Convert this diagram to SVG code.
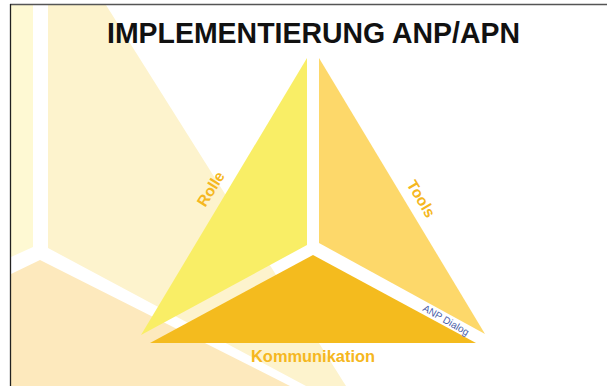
<svg xmlns="http://www.w3.org/2000/svg" width="607" height="386" viewBox="0 0 607 386">
<style>
.lbl{font-family:"Liberation Sans",Arial,sans-serif;font-weight:bold;fill:#f5b720;text-anchor:middle;}
.title{font-family:"Liberation Sans",Arial,sans-serif;font-weight:bold;fill:#111;font-size:29px;}
.dlg{font-family:"Liberation Sans",Arial,sans-serif;fill:#4b5fa8;font-size:10px;text-anchor:middle;}
</style>
<rect width="607" height="386" fill="#ffffff"/>
<g id="background">
<polygon points="11,5 33,5 33,247 11,257" fill="#fef9d3"/>
<polygon points="48,5 106,5 346,386 306,386 48,248" fill="#fdf3cd"/>
<polygon points="11,274 40,260 290,386 11,386" fill="#fde9bd"/>
</g>
<g id="frame" fill="none">
<line x1="10" y1="4.5" x2="607" y2="4.5" stroke="#555" stroke-width="1.3"/>
<line x1="10.5" y1="4" x2="10.5" y2="386" stroke="#222" stroke-width="1.3"/>
</g>
<g id="title">
<text class="title" x="107" y="43" textLength="413" lengthAdjust="spacingAndGlyphs">IMPLEMENTIERUNG ANP/APN</text>
</g>
<g id="rolle">
<polygon points="307,58 307,245 141,335" fill="#f9ee66"/>
<text class="lbl" font-size="15.5" transform="translate(211,189) rotate(-58)" y="5">Rolle</text>
</g>
<g id="tools">
<polygon points="319,58 319,243 485,334" fill="#fdd86a"/>
<text class="lbl" font-size="15.5" transform="translate(421,199) rotate(59)" y="5">Tools</text>
</g>
<g id="kommunikation">
<polygon points="313,255 476,343 150,343" fill="#f4bb1e"/>
<text class="lbl" font-size="16" x="313" y="362" textLength="124" lengthAdjust="spacingAndGlyphs">Kommunikation</text>
</g>
<g id="anp-dialog">
<text class="dlg" transform="translate(446,320) rotate(30)" y="3.5">ANP Dialog</text>
</g>
<g id="connectors"/>
</svg>
